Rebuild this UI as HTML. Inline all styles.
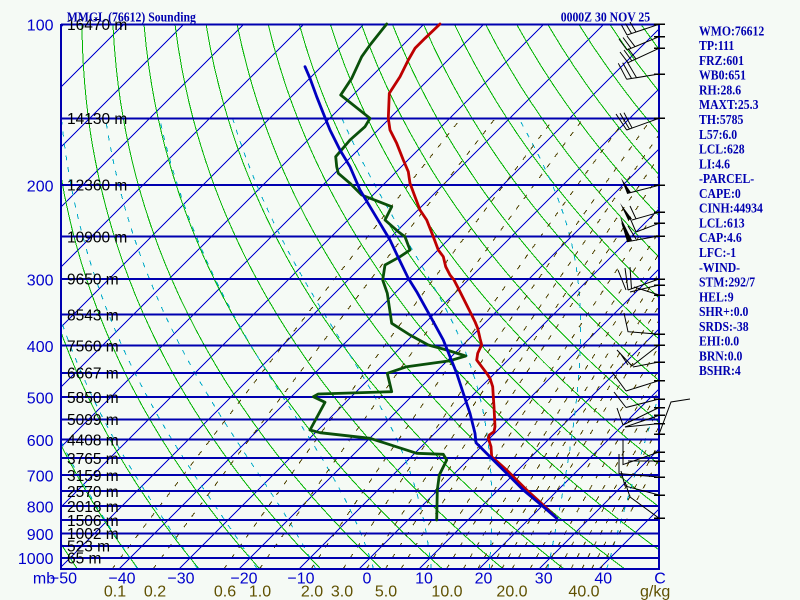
<!DOCTYPE html>
<html><head><meta charset="utf-8">
<style>html,body{margin:0;padding:0;background:#f5faf5;}svg{display:block;}</style>
</head>
<body>
<svg id="s" xmlns="http://www.w3.org/2000/svg" width="800" height="600" viewBox="0 0 800 600">
<rect width="800" height="600" fill="#f5faf5"/>
<defs><clipPath id="c"><rect x="61" y="24" width="598" height="545"/></clipPath></defs>
<g id="grid" clip-path="url(#c)" shape-rendering="crispEdges"></g>

<!-- pressure lines -->
<g stroke="#0000b0" stroke-width="2" shape-rendering="crispEdges">
<line x1="61" x2="659" y1="24.3" y2="24.3"/>
<line x1="61" x2="659" y1="118.3" y2="118.3"/>
<line x1="61" x2="659" y1="184.9" y2="184.9"/>
<line x1="61" x2="659" y1="236.6" y2="236.6"/>
<line x1="61" x2="659" y1="278.9" y2="278.9"/>
<line x1="61" x2="659" y1="314.6" y2="314.6"/>
<line x1="61" x2="659" y1="345.5" y2="345.5"/>
<line x1="61" x2="659" y1="372.8" y2="372.8"/>
<line x1="61" x2="659" y1="397.2" y2="397.2"/>
<line x1="61" x2="659" y1="419.3" y2="419.3"/>
<line x1="61" x2="659" y1="439.5" y2="439.5"/>
<line x1="61" x2="659" y1="458.0" y2="458.0"/>
<line x1="61" x2="659" y1="475.2" y2="475.2"/>
<line x1="61" x2="659" y1="491.2" y2="491.2"/>
<line x1="61" x2="659" y1="506.1" y2="506.1"/>
<line x1="61" x2="659" y1="520.2" y2="520.2"/>
<line x1="61" x2="659" y1="533.4" y2="533.4"/>
<line x1="61" x2="659" y1="545.9" y2="545.9"/>
<line x1="61" x2="659" y1="557.8" y2="557.8"/>
<line x1="61" x2="659" y1="569" y2="569"/>
<line x1="61" x2="61" y1="24" y2="570"/>
<line x1="659" x2="659" y1="24" y2="570"/>
</g>

<!-- height labels -->
<g font-family="Liberation Sans, sans-serif" font-size="15.5" fill="#000">
<text x="67" y="30.1">16470 m</text>
<text x="67" y="124.1">14130 m</text>
<text x="67" y="190.7">12360 m</text>
<text x="67" y="242.4">10900 m</text>
<text x="67" y="284.7">9650 m</text>
<text x="67" y="320.4">8543 m</text>
<text x="67" y="351.3">7560 m</text>
<text x="67" y="378.6">6667 m</text>
<text x="67" y="403.0">5850 m</text>
<text x="67" y="425.1">5099 m</text>
<text x="67" y="445.3">4408 m</text>
<text x="67" y="463.8">3765 m</text>
<text x="67" y="481.0">3159 m</text>
<text x="67" y="497.0">2570 m</text>
<text x="67" y="511.9">2018 m</text>
<text x="67" y="526.0">1506 m</text>
<text x="67" y="539.2">1002 m</text>
<text x="67" y="551.7">523 m</text>
<text x="67" y="563.6">65 m</text>
</g>

<!-- pressure labels -->
<g font-family="Liberation Sans, sans-serif" font-size="16" fill="#0000cc" text-anchor="end">
<text x="53.5" y="30.7">100</text>
<text x="53.5" y="191.3">200</text>
<text x="53.5" y="285.3">300</text>
<text x="53.5" y="351.9">400</text>
<text x="53.5" y="403.6">500</text>
<text x="53.5" y="445.9">600</text>
<text x="53.5" y="481.6">700</text>
<text x="53.5" y="512.5">800</text>
<text x="53.5" y="539.8">900</text>
<text x="53.5" y="564.2">1000</text>
</g>

<!-- bottom temperature labels -->
<g font-family="Liberation Sans, sans-serif" font-size="16" fill="#0000cc" text-anchor="middle">
<text x="44" y="583.5">mb</text>
<text x="63.5" y="583.5">−50</text>
<text x="122" y="583.5">−40</text>
<text x="181" y="583.5">−30</text>
<text x="244" y="583.5">−20</text>
<text x="301" y="583.5">−10</text>
<text x="367" y="583.5">0</text>
<text x="424" y="583.5">10</text>
<text x="483.5" y="583.5">20</text>
<text x="543.7" y="583.5">30</text>
<text x="603.3" y="583.5">40</text>
<text x="660" y="583.5">C</text>
</g>

<!-- mixing ratio labels -->
<g font-family="Liberation Sans, sans-serif" font-size="16" fill="#5f5000" text-anchor="middle">
<text x="115" y="596.5">0.1</text>
<text x="155" y="596.5">0.2</text>
<text x="225" y="596.5">0.6</text>
<text x="260" y="596.5">1.0</text>
<text x="312" y="596.5">2.0</text>
<text x="342" y="596.5">3.0</text>
<text x="386" y="596.5">5.0</text>
<text x="447" y="596.5">10.0</text>
<text x="512" y="596.5">20.0</text>
<text x="584" y="596.5">40.0</text>
<text x="640" y="596.5" text-anchor="start">g/kg</text>
</g>

<!-- sounding -->
<g fill="none" stroke-linejoin="round" stroke-linecap="round">
<polyline stroke="#be0000" stroke-width="2.8" points="440,24 425,38.3 415,48.3 408.3,60 400,76.7 389.3,93.3 388.3,118.3 390,130 396.7,143.3 403.3,160 408.3,171.7 410,183.3 415,196.7 420,210 426.7,220 433.3,236.7 438.3,250 443.3,256.7 445.7,266.7 450,275 454,280 458.3,288.3 463.3,298.3 468.3,308.3 471.7,315 475,321.7 477.7,328.3 480,338.3 481.7,345 480,348.3 477.7,353.3 476.7,360 481.7,366.7 486.7,373.3 490,378.3 492.7,386.7 493.3,396.7 494,406.7 495,426.7 494,431.7 489.3,435 488.3,438.3 491,446.7 491.7,456.7 506.7,470 526.7,490 543.3,505 556.7,518.3"/>
<polyline stroke="#0a500a" stroke-width="2.8" points="386.7,24 370,45 361.7,56.7 351.7,78.3 340.7,95 370,118.3 365,126.7 350,140 340,151.7 335.7,156.7 336.7,166.7 338.3,173.3 350,183.3 361.7,195 391.7,206.7 385,220 398.3,231.7 405,236.7 410,250 400,256.7 385,265 382.7,280 387.3,293.3 391.7,323.3 410,335 428.3,345 446.7,350 465.7,356 450,360.7 406.7,366.7 387.3,373.3 391.7,391.7 318.3,394 313.3,396.7 325,402.3 310,430 320,432.7 370,438.3 416.7,453.3 443.3,454.3 446.7,460 439.3,475 437.3,490 436.7,520"/>
<polyline stroke="#0000c0" stroke-width="2.8" points="305,66.7 310,78.3 316.7,96.7 323.3,113.3 330,130 340,150 350,166.7 360,190 370,206.7 380,223.3 390,240 398,257 408.3,278.3 416.7,291.7 425,306.7 433.3,321.7 443.3,340 450,356.7 456.7,373.3 463.3,393.3 470,413.3 475,433.3 476,442.7 490,456.7 503.3,470 523.3,490 543.3,506.7 556.7,518.3"/>
</g>

<!-- wind barbs -->
<g stroke="#000" stroke-width="1" fill="none">
<path d="M659,24.3L627,35M627,35L621.5,25M631.5,33.5L625.5,23.5M636,32L630,22"/>
<path d="M659,36.7L627,50M627,50L619,39M631,48.3L623,37.5M635,46.7L627,36"/>
<path d="M659,48.3L628,62.7M628,62.7L620,52M632,61L624,50M636,59L628,48.5"/>
<path d="M659,74L626.7,79.3M626.7,79.3L618.3,63.3M631.7,78.8L622.7,62.7M636.7,78L627.3,62"/>
<path d="M659,118.3L626.7,130M626.7,130L616,114M629.3,128.8L620,113.3M632,127.8L624,112.7"/>
<path d="M659,185.3L627,193.5"/>
<path d="M659,212.3L632,220M636,218.8L630,206"/>
<path d="M659,223.3L636,232M636,232L630,218"/>
<path d="M659,236L627,241.7M636,239L628,226"/>
<path d="M659,279L628,290M628,290L625,268M631.5,289L630,267M626,290L618,270"/>
<path d="M659,285L630,292"/>
<path d="M659,295L634,287"/>
<path d="M659,334.3L628,331.7L624,313"/>
<path d="M659,345L632,366M632,366L617,350M628,365L620,353"/>
<path d="M659,362L633,367"/>
<path d="M659,380.7L626,391M626,391L612,372"/>
<path d="M659,399L626,407.5M626,407.5L614,392"/>
<path d="M659,407.5L623,425M623,425L617,408"/>
<path d="M659,415.4L625,427"/>
<path d="M659,423.6L625,427"/>
<path d="M659,434.3L671,402L690,399"/>
<path d="M659,452L623,464.6L623,440"/>
<path d="M659,461L628,461"/>
<path d="M659,477L619,473.6L619,454"/>
<path d="M659,495L625,486L621,471"/>
<path d="M659,518.2L630,497L625,482"/>
</g>
<g fill="#000">
<polygon points="621,178 627,193.5 631,192.4"/>
<polygon points="620,203 628,220 632,219"/>
<polygon points="620,216 627,241.7 632,240.3"/>
<polygon points="621,222 626,238 630,236"/>
</g>
<g stroke="#000" stroke-width="1.5" shape-rendering="crispEdges">
<path d="M654,24.3H665M654,36.7H665M654,48.3H665M654,74H665M654,118.3H665M654,185.3H665M654,212.3H665M654,223.3H665M654,236H665M654,279H665M654,285H665M654,295H665M654,334.3H665M654,345H665M654,362H665M654,380.7H665M654,399H665M654,407.5H665M654,415.4H665M654,423.6H665M654,434.3H665M654,452H665M654,461H665M654,477H665M654,495H665M654,518.2H665"/>
</g>

<!-- titles -->
<g font-family="Liberation Serif, serif" font-weight="bold" font-size="14" fill="#0000b0">
<text transform="translate(66.7,21.7) scale(0.84,1)">MMGL (76612) Sounding</text>
<text transform="translate(560.7,21.7) scale(0.84,1)">0000Z 30 NOV 25</text>
</g>
<g font-family="Liberation Serif, serif" font-weight="bold" font-size="14" fill="#0000b0" transform="translate(699,0) scale(0.84,1)">
<text x="0" y="35.3">WMO:76612</text>
<text x="0" y="50.1">TP:111</text>
<text x="0" y="64.9">FRZ:601</text>
<text x="0" y="79.6">WB0:651</text>
<text x="0" y="94.4">RH:28.6</text>
<text x="0" y="109.2">MAXT:25.3</text>
<text x="0" y="124.0">TH:5785</text>
<text x="0" y="138.8">L57:6.0</text>
<text x="0" y="153.5">LCL:628</text>
<text x="0" y="168.3">LI:4.6</text>
<text x="0" y="183.1">-PARCEL-</text>
<text x="0" y="197.9">CAPE:0</text>
<text x="0" y="212.7">CINH:44934</text>
<text x="0" y="227.4">LCL:613</text>
<text x="0" y="242.2">CAP:4.6</text>
<text x="0" y="257.0">LFC:-1</text>
<text x="0" y="271.8">-WIND-</text>
<text x="0" y="286.6">STM:292/7</text>
<text x="0" y="301.3">HEL:9</text>
<text x="0" y="316.1">SHR+:0.0</text>
<text x="0" y="330.9">SRDS:-38</text>
<text x="0" y="345.7">EHI:0.0</text>
<text x="0" y="360.5">BRN:0.0</text>
<text x="0" y="375.2">BSHR:4</text>
</g>
</svg>
<script>
(function(){
var NS="http://www.w3.org/2000/svg";
var g=document.getElementById("grid");
var K=231.7,Y0=24.3;
function Y(p){return Y0+K*Math.log(p/100);}
var Y1000=Y(1000);
function X(T,p){return 370+6*T+(Y1000-Y(p));}
function path(pts,attrs){
  var d="M"+pts.map(function(q){return q[0].toFixed(1)+","+q[1].toFixed(1);}).join("L");
  var e=document.createElementNS(NS,"path");
  e.setAttribute("d",d);e.setAttribute("fill","none");
  for(var k in attrs)e.setAttribute(k,attrs[k]);
  g.appendChild(e);
}
var T,p,i,pts;
/* isotherms */
for(T=-150;T<=60;T+=10){
  path([[X(T,1060),Y(1060)],[X(T,95),Y(95)]],{stroke:"#0000d0","stroke-width":"1"});
}
/* dry adiabats */
for(var th=-80;th<=200;th+=10){
  pts=[];
  for(p=100;p<=1060;p+=10){
    T=(th+273.15)*Math.pow(p/1000,0.286)-273.15;
    pts.push([X(T,p),Y(p)]);
  }
  path(pts,{stroke:"#00b400","stroke-width":"1"});
}
/* moist adiabats */
function es(T){return 6.112*Math.exp(17.67*T/(T+243.5));}
function lapse(T,p){
  var Tk=T+273.15,e=es(T),r=0.622*e/(p-e);
  var num=(287.04*Tk+2.501e6*r)/p;
  var den=1005.7+(2.501e6*2.501e6*r*0.622)/(287.04*Tk*Tk);
  return num/den;
}
for(var tw=-40;tw<=50;tw+=10){
  var up=[],dn=[];
  T=tw;p=1000;var dp=-2;
  up.push([X(T,p),Y(p)]);
  while(p>150){
    var k1=lapse(T,p);
    var k2=lapse(T+k1*dp/2,p+dp/2);
    T+=k2*dp;p+=dp;
    up.push([X(T,p),Y(p)]);
  }
  T=tw;p=1000;
  while(p<1050){
    var a1=lapse(T,p);
    var a2=lapse(T+a1,p+1);
    T+=a2*2;p+=2;
    dn.push([X(T,p),Y(p)]);
  }
  pts=dn.reverse().concat(up);
  path(pts,{stroke:"#00aac8","stroke-width":"1","stroke-dasharray":"5 7"});
}
/* mixing ratio lines */
var ws=[0.1,0.2,0.6,1,2,3,4,5,6,8,10,12,14,16,18,20,24,28,32,36,40,44,48];
for(i=0;i<ws.length;i++){
  var w=ws[i];pts=[];
  for(p=1050;p>=150;p-=10){
    var e=w*p/(622+w);var l=Math.log(e/6.112);
    var Td=243.5*l/(17.67-l);
    pts.push([X(Td,p),Y(p)]);
  }
  path(pts,{stroke:"#4f4200","stroke-width":"1","stroke-dasharray":"5 8"});
}
})();
</script>
</body></html>
